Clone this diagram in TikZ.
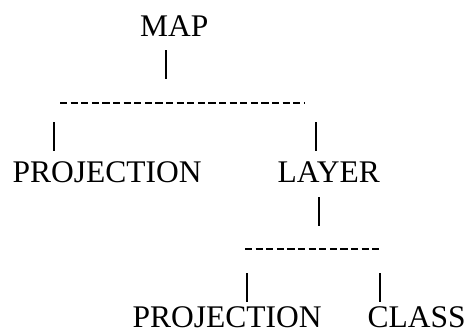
\documentclass[tikz,border=0pt]{standalone}
\usepackage{fontspec}
\setmainfont{Liberation Serif}
\begin{document}
\begin{tikzpicture}[x=1pt,y=-1pt,
  lbl/.style={inner sep=0pt,anchor=base west,font=\fontsize{31.5}{36}\selectfont},
  pipe/.style={line width=1.3pt},
  dashrow/.style={line width=2.6pt,dash pattern=on 7.2pt off 3.4pt}]
\useasboundingbox (0,0) rectangle (465,332);
% text nodes
\node[lbl] (map) at (140,36) {MAP};
\node[lbl] (proj1) at (12.5,182) {PROJECTION};
\node[lbl] (layer) at (277.5,182) {LAYER};
\node[lbl] (proj2) at (132.5,327) {PROJECTION};
\node[lbl] (class) at (367.5,327) {CLASS};
% connector coordinates
\coordinate (p1a) at (166,50);  \coordinate (p1b) at (166,79);
\coordinate (d1a) at (60,103);  \coordinate (d1b) at (304,103);
\coordinate (p2a) at (54,122);  \coordinate (p2b) at (54,151);
\coordinate (p3a) at (316,122); \coordinate (p3b) at (316,151);
\coordinate (p4a) at (319,197); \coordinate (p4b) at (319,226);
\coordinate (d2a) at (245,249); \coordinate (d2b) at (382,249);
\coordinate (p5a) at (247,273); \coordinate (p5b) at (247,302);
\coordinate (p6a) at (380,273); \coordinate (p6b) at (380,302);
% connectors
\draw[pipe] (p1a) -- (p1b);
\draw[dashrow] (d1a) -- (d1b);
\draw[pipe] (p2a) -- (p2b);
\draw[pipe] (p3a) -- (p3b);
\draw[pipe] (p4a) -- (p4b);
\draw[dashrow] (d2a) -- (d2b);
\draw[pipe] (p5a) -- (p5b);
\draw[pipe] (p6a) -- (p6b);
\end{tikzpicture}
\end{document}
